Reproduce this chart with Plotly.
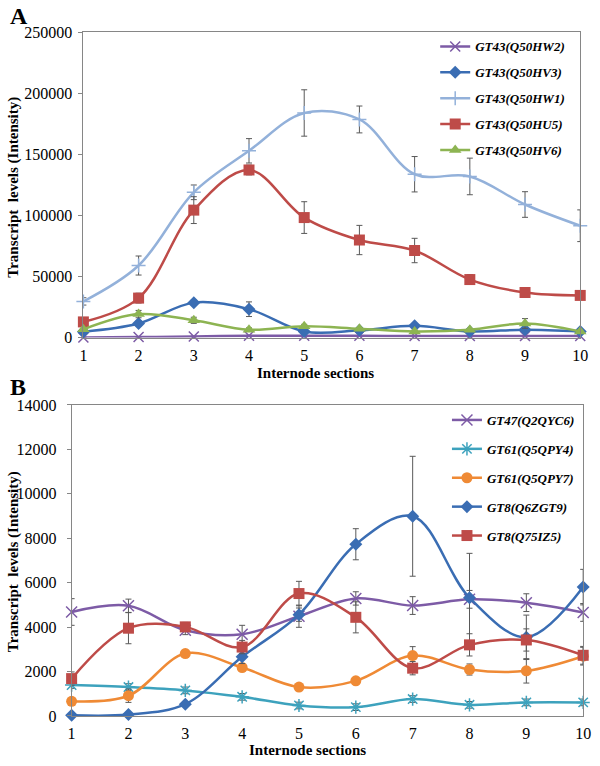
import plotly.graph_objects as go

sections = [1, 2, 3, 4, 5, 6, 7, 8, 9, 10]

# Panel A series
a_names = ["GT43(Q50HW2)", "GT43(Q50HV3)", "GT43(Q50HW1)", "GT43(Q50HU5)", "GT43(Q50HV6)"]
a_hw2 = [0, 400, 800, 1500, 1500, 1400, 1300, 1200, 1200, 1200]
a_hv3 = [4800, 11500, 28600, 23200, 5000, 5900, 9600, 5000, 6400, 5000]
a_hw1 = [29600, 59000, 119000, 153000, 184000, 178700, 133800, 132000, 109000, 91600]
a_hu5 = [12800, 32300, 104400, 137300, 98300, 79900, 71300, 47500, 36900, 34500]
a_hv6 = [6700, 19200, 14100, 6400, 9300, 7200, 5000, 6400, 11500, 5000]
a_hw2_err = [300, 300, 300, 300, 300, 300, 300, 300, 300, 300]
a_hv3_err = [1500, 2000, 2000, 6000, 1500, 1000, 1500, 1000, 1000, 1000]
a_hw1_err = [3000, 7800, 6000, 10000, 19000, 11000, 14500, 15000, 10500, 13000]
a_hu5_err = [1500, 4000, 11000, 4000, 13000, 12000, 10000, 4000, 2000, 2000]
a_hv6_err = [1500, 3000, 2500, 1500, 1500, 1000, 1000, 1000, 4000, 1000]

# Panel B series
b_names = ["GT47(Q2QYC6)", "GT61(Q5QPY4)", "GT61(Q5QPY7)", "GT8(Q6ZGT9)", "GT8(Q75IZ5)"]
b_gt47 = [4680, 4960, 3860, 3680, 4490, 5290, 4970, 5250, 5100, 4660]
b_py4 = [1390, 1300, 1150, 860, 470, 395, 760, 500, 610, 610]
b_py7 = [660, 910, 2810, 2180, 1300, 1580, 2720, 2090, 2030, 2690]
b_gt9 = [30, 60, 530, 2660, 4560, 7730, 8990, 5320, 3540, 5800]
b_iz5 = [1680, 3950, 4010, 3100, 5510, 4440, 2150, 3200, 3420, 2730]
b_gt47_err = [600, 300, 200, 400, 500, 300, 400, 400, 400, 400]
b_py4_err = [150, 150, 150, 150, 150, 150, 150, 150, 150, 150]
b_py7_err = [100, 300, 150, 150, 100, 150, 400, 250, 550, 400]
b_gt9_err = [30, 30, 100, 300, 300, 700, 2700, 2000, 1000, 800]
b_iz5_err = [300, 700, 200, 300, 550, 700, 300, 500, 500, 400]

FONT = "Liberation Serif"
ERRC = "#595959"

fig = go.Figure()

def add(name, y, err, color, symbol, size, xa, ya, legend, lw=2.5, mline=None):
    marker = dict(symbol=symbol, size=size, color=color)
    if mline:
        marker["line"] = dict(color=color, width=mline)
    fig.add_trace(go.Scatter(
        x=sections, y=y, name=name, mode="lines+markers",
        line=dict(color=color, width=lw, shape="spline", smoothing=1),
        marker=marker,
        error_y=dict(type="data", array=err, visible=True, color=ERRC, thickness=1, width=3),
        xaxis=xa, yaxis=ya, legend=legend, legendgroup=name, cliponaxis=False,
    ))

# Panel A
add(a_names[0], a_hw2, a_hw2_err, "#7D5BA6", "x-thin", 10, "x", "y", "legend", mline=1.5)
add(a_names[1], a_hv3, a_hv3_err, "#3A6DB3", "diamond", 10, "x", "y", "legend")
add(a_names[2], a_hw1, a_hw1_err, "#93B1DA", "cross-thin", 10, "x", "y", "legend", mline=1.5)
add(a_names[3], a_hu5, a_hu5_err, "#BE4B48", "square", 11, "x", "y", "legend")
add(a_names[4], a_hv6, a_hv6_err, "#8DB452", "triangle-up", 11, "x", "y", "legend")

# Panel B
add(b_names[0], b_gt47, b_gt47_err, "#7D5BA6", "x-thin", 11, "x2", "y2", "legend2", mline=1.5)
add(b_names[1], b_py4, b_py4_err, "#3DA2BD", "asterisk", 11, "x2", "y2", "legend2", mline=1.5)
add(b_names[2], b_py7, b_py7_err, "#EF8A35", "circle", 11, "x2", "y2", "legend2")
add(b_names[3], b_gt9, b_gt9_err, "#3A6DB3", "diamond", 10, "x2", "y2", "legend2")
add(b_names[4], b_iz5, b_iz5_err, "#BE4B48", "square", 11, "x2", "y2", "legend2")

W, H = 600, 766
axcol = "#868686"
tickfont = dict(family=FONT, size=16, color="black")

def xax(dom, yanchor):
    return dict(domain=dom, range=[1, 10], tickvals=sections, showgrid=False, zeroline=False,
                showline=True, mirror=True, linecolor=axcol, linewidth=1, ticks="",
                tickfont=tickfont, anchor=yanchor, ticklabelstandoff=3)

def yax(dom, rng, dt, xanchor, so):
    return dict(domain=dom, range=rng, dtick=dt, tickformat="d", showgrid=False, zeroline=False,
                showline=True, mirror=True, linecolor=axcol, linewidth=1, ticks="outside",
                ticklen=4, tickcolor=axcol, tickfont=tickfont, anchor=xanchor,
                ticklabelstandoff=so)

legfont = dict(family=FONT, size=13, color="black", weight="bold", style="italic")

fig.update_layout(
    width=W, height=H, margin=dict(l=0, r=0, t=0, b=0),
    paper_bgcolor="white", plot_bgcolor="white",
    xaxis=xax([81 / W, 588 / W], "y"),
    yaxis=yax([1 - 337 / H, 1 - 25 / H], [0, 250000], 50000, "x", 3),
    xaxis2=xax([69 / W, 591 / W], "y2"),
    yaxis2=yax([1 - 724 / H, 1 - 406 / H], [0, 14000], 2000, "x2", 7),
    legend=dict(x=440 / W, y=1 - 24 / H, xanchor="left", yanchor="top", font=legfont,
                bgcolor="rgba(0,0,0,0)", tracegroupgap=6, itemwidth=30),
    legend2=dict(x=452 / W, y=1 - 406 / H, xanchor="left", yanchor="top", font=legfont,
                 bgcolor="rgba(0,0,0,0)", tracegroupgap=9, itemwidth=30),
    showlegend=True,
)

ann_title = dict(family=FONT, size=15, color="black", weight="bold")
fig.add_annotation(text="<b>A</b>", x=4 / W, y=1 - 8 / H, xref="paper", yref="paper",
                   showarrow=False, xanchor="left", yanchor="middle",
                   font=dict(family=FONT, size=24, color="black"))
fig.add_annotation(text="<b>B</b>", x=4 / W, y=1 - 388 / H, xref="paper", yref="paper",
                   showarrow=False, xanchor="left", yanchor="middle",
                   font=dict(family=FONT, size=24, color="black"))
fig.add_annotation(text="Transcript  levels (Intensity)", x=10 / W, y=1 - 183 / H,
                   xref="paper", yref="paper", showarrow=False, textangle=-90,
                   xanchor="center", yanchor="middle", font=ann_title)
fig.add_annotation(text="Transcript  levels (Intensity)", x=10 / W, y=1 - 566 / H,
                   xref="paper", yref="paper", showarrow=False, textangle=-90,
                   xanchor="center", yanchor="middle", font=ann_title)
fig.add_annotation(text="Internode sections", x=318 / W, y=1 - 373 / H,
                   xref="paper", yref="paper", showarrow=False,
                   xanchor="center", yanchor="middle", font=ann_title)
fig.add_annotation(text="Internode sections", x=310 / W, y=1 - 759 / H,
                   xref="paper", yref="paper", showarrow=False,
                   xanchor="center", yanchor="middle", font=ann_title)

fig.write_html("out.html", config={"displayModeBar": False},
               post_script="document.body.style.margin='0';")
